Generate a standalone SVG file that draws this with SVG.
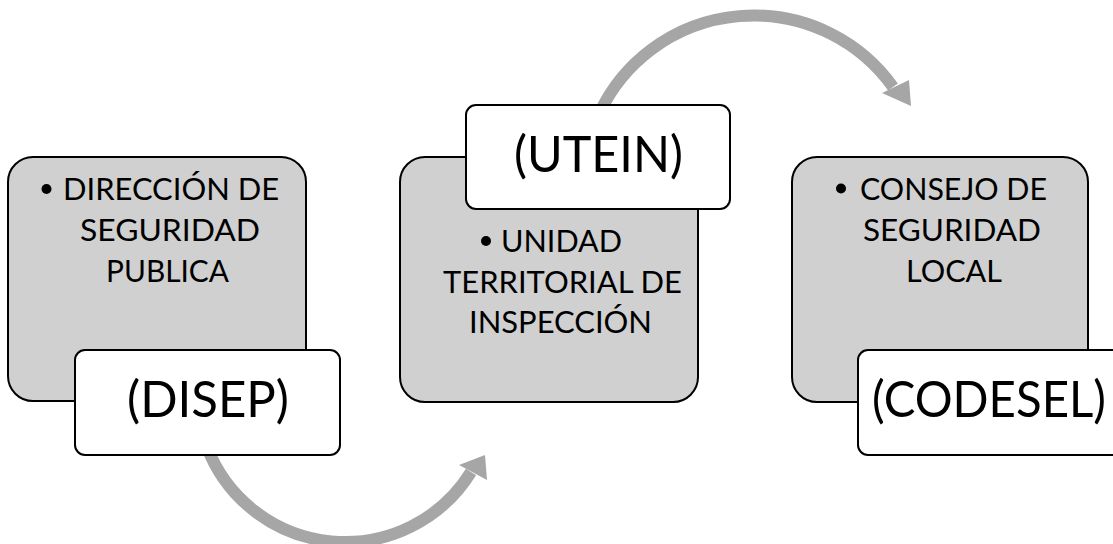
<svg xmlns="http://www.w3.org/2000/svg" width="1113" height="544" viewBox="0 0 1113 544">
<style>
.gray{fill:#d0d0d0;stroke:#000;stroke-width:2}
.white{fill:#fff;stroke:#000;stroke-width:2}
.t{font-family:Lato,"Liberation Sans",sans-serif;font-size:31.5px;fill:#000}
.big{font-family:Lato,"Liberation Sans",sans-serif;font-size:50px;fill:#000}
.arc{fill:none;stroke:#a6a6a6;stroke-width:12}
.head{fill:#a6a6a6}
</style>
<rect width="1113" height="544" fill="#fff"/>
<g id="connectors">
<path class="arc" d="M 207 447 A 148 148 0 0 0 471 472"/>
<polygon class="head" points="485,455 459,465 487,480"/>
<path class="arc" d="M 600 112 A 170 168 0 0 1 893 87"/>
<polygon class="head" points="911,106 882,93 909,80"/>
</g>
<g id="node-disep">
<rect class="gray" x="8" y="157" width="298" height="244" rx="25"/>
<circle cx="46.5" cy="189" r="5"/>
<text class="t" x="63" y="200" textLength="216" lengthAdjust="spacingAndGlyphs">DIRECCIÓN DE</text>
<text class="t" x="80" y="241" textLength="180" lengthAdjust="spacingAndGlyphs">SEGURIDAD</text>
<text class="t" x="106" y="282" textLength="123" lengthAdjust="spacingAndGlyphs">PUBLICA</text>
<rect class="white" x="75" y="350" width="265" height="105" rx="10"/>
<text class="big" x="127" y="417" textLength="162" lengthAdjust="spacingAndGlyphs">(DISEP)</text>
</g>
<g id="node-utein">
<rect class="gray" x="400" y="157" width="298" height="245" rx="25"/>
<circle cx="486" cy="241" r="5"/>
<text class="t" x="501" y="252" textLength="121" lengthAdjust="spacingAndGlyphs">UNIDAD</text>
<text class="t" x="443" y="293" textLength="239" lengthAdjust="spacingAndGlyphs">TERRITORIAL DE</text>
<text class="t" x="469" y="333" textLength="183" lengthAdjust="spacingAndGlyphs">INSPECCIÓN</text>
<rect class="white" x="466" y="105" width="264" height="104" rx="10"/>
<text class="big" x="514" y="172" textLength="169" lengthAdjust="spacingAndGlyphs">(UTEIN)</text>
</g>
<g id="node-codesel">
<rect class="gray" x="792" y="157" width="296" height="245" rx="25"/>
<circle cx="841" cy="188.5" r="5"/>
<text class="t" x="860" y="200" textLength="187" lengthAdjust="spacingAndGlyphs">CONSEJO DE</text>
<text class="t" x="863" y="241" textLength="178" lengthAdjust="spacingAndGlyphs">SEGURIDAD</text>
<text class="t" x="906" y="282" textLength="96" lengthAdjust="spacingAndGlyphs">LOCAL</text>
<rect class="white" x="858" y="350" width="265" height="105" rx="10"/>
<text class="big" x="872" y="417" textLength="234" lengthAdjust="spacingAndGlyphs">(CODESEL)</text>
</g>
</svg>
